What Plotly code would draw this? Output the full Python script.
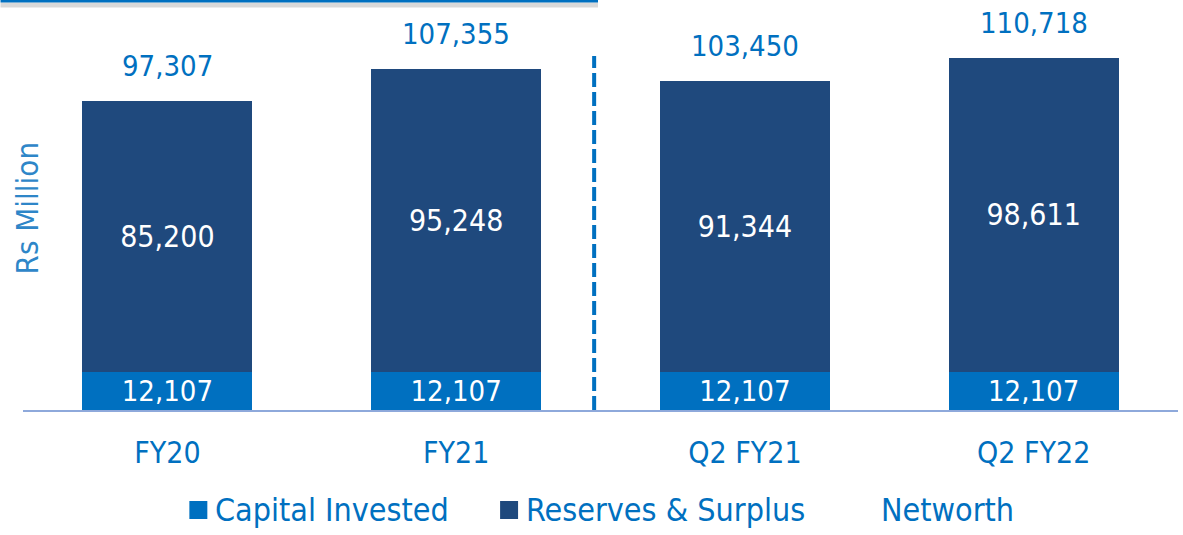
import plotly.graph_objects as go

# Net worth composition, Rs Million
categories = ["FY20", "FY21", "Q2 FY21", "Q2 FY22"]
capital_invested = [12107, 12107, 12107, 12107]
reserves_surplus = [85200, 95248, 91344, 98611]
networth = [97307, 107355, 103450, 110718]

BLUE = "#0070C0"
NAVY = "#1F497D"
FONT = "DejaVu Sans Condensed, Liberation Sans Narrow, Roboto, sans-serif"

W, H = 1183, 535
ML, MR, MT, MB = 22.5, 4.5, 0, 125
PW, PH = W - ML - MR, H - MT - MB


def px(x):
    return (x - ML) / PW


def py(y):
    return (H - MB - y) / PH


def fmt(v):
    return f"{v:,}"


fig = go.Figure()
fig.add_trace(go.Bar(
    x=categories, y=capital_invested, name="Capital Invested",
    marker=dict(color=BLUE, line=dict(width=0)),
    text=[fmt(v) for v in capital_invested], textposition="inside",
    insidetextanchor="middle", constraintext="none",
    textfont=dict(color="white", size=29, family=FONT),
))
fig.add_trace(go.Bar(
    x=categories, y=reserves_surplus, name="Reserves & Surplus",
    marker=dict(color=NAVY, line=dict(width=0)),
    text=[fmt(v) for v in reserves_surplus], textposition="inside",
    insidetextanchor="middle", constraintext="none",
    textfont=dict(color="white", size=30, family=FONT),
))

# networth totals above each stack
for cat, total in zip(categories, networth):
    fig.add_annotation(x=cat, y=total, text=fmt(total), showarrow=False,
                       xanchor="center", yanchor="bottom", yshift=16,
                       font=dict(color=BLUE, size=29, family=FONT))

# top rule with soft shadow
fig.add_shape(type="line", xref="paper", yref="paper", x0=px(0), x1=px(598),
              y0=py(5), y1=py(5), line=dict(color="#D9D9D9", width=5))
fig.add_shape(type="line", xref="paper", yref="paper", x0=px(0), x1=px(598),
              y0=py(1), y1=py(1), line=dict(color=BLUE, width=3))

# divider between annual and half-year figures
fig.add_shape(type="line", xref="x", yref="paper", x0=1.478, x1=1.478,
              y0=0, y1=py(56), line=dict(color=BLUE, width=4, dash="14px,5px"))

# axis title
fig.add_annotation(text="Rs Million", xref="paper", yref="paper",
                   x=px(27), y=py(208), textangle=-90, showarrow=False,
                   xanchor="center", yanchor="middle",
                   font=dict(color="#2E86C8", size=31, family=FONT))

# legend
legend_items = [("Capital Invested", BLUE, 189), ("Reserves & Surplus", NAVY, 500),
                ("Networth", None, 855)]
for label, color, x0 in legend_items:
    if color:
        fig.add_shape(type="rect", xref="paper", yref="paper",
                      x0=px(x0), x1=px(x0 + 18), y0=py(519), y1=py(501),
                      fillcolor=color, line=dict(width=0))
    fig.add_annotation(text=label, xref="paper", yref="paper",
                       x=px(x0 + 24), y=py(510), showarrow=False,
                       xanchor="left", yanchor="middle",
                       font=dict(color=BLUE, size=32, family=FONT))

fig.update_layout(
    width=W, height=H, barmode="stack", bargap=0.412,
    margin=dict(l=ML, r=MR, t=MT, b=MB),
    plot_bgcolor="white", paper_bgcolor="white",
    showlegend=False,
)
fig.update_xaxes(
    showline=True, linecolor="#8EA9DB", linewidth=2,
    showgrid=False, ticks="outside", ticklen=15, tickcolor="rgba(0,0,0,0)",
    tickfont=dict(color=BLUE, size=30, family=FONT),
)
fig.update_yaxes(
    range=[0, 129112], visible=False, showgrid=False, zeroline=False,
)

fig.write_html("out.html")
